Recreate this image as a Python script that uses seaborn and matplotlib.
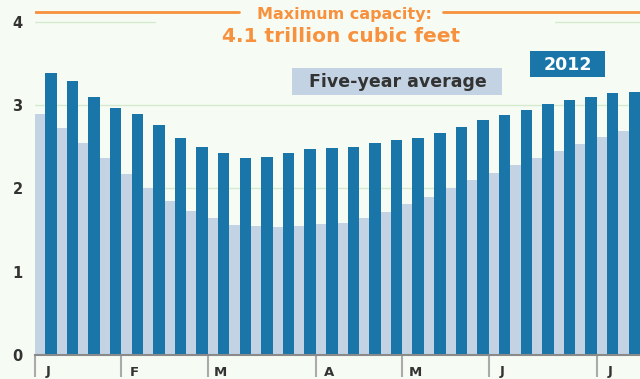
import matplotlib
matplotlib.use("Agg")
import matplotlib.pyplot as plt
from matplotlib.patches import Rectangle
import seaborn as sns
import numpy as np
import pandas as pd

# ---- data ----
weeks = list(range(28))
storage_2012 = [3.38, 3.29, 3.10, 2.97, 2.89, 2.76, 2.60, 2.50, 2.42, 2.37,
                2.38, 2.43, 2.47, 2.48, 2.50, 2.55, 2.58, 2.60, 2.67, 2.74,
                2.82, 2.88, 2.94, 3.01, 3.06, 3.10, 3.14, 3.16]
five_year_avg = [2.89, 2.72, 2.55, 2.37, 2.17, 2.00, 1.85, 1.73, 1.64, 1.56,
                 1.55, 1.54, 1.55, 1.57, 1.59, 1.64, 1.72, 1.81, 1.90, 2.00,
                 2.10, 2.19, 2.28, 2.37, 2.45, 2.53, 2.62, 2.69]
month_labels = ["J", "F", "M", "A", "M", "J", "J"]
month_starts = [0, 4, 8, 13, 17, 21, 26]
y_ticks = [0, 1, 2, 3, 4]
max_capacity = 4.12

BG = "#f6fcf4"
DARK = "#1a76a8"
LIGHT = "#c3d3e3"
ORANGE = "#f7913d"
GRID = "#d6e9cc"
TXT = "#333333"

sns.set_theme(style="white")
plt.rcParams['font.family'] = ['DejaVu Sans']

W, H = 640, 379
fig = plt.figure(figsize=(6.4, 3.79), dpi=100, facecolor=BG)
ax = fig.add_axes([35/W, 24/H, 605/W, 355/H])
ax.set_facecolor(BG)

lw, dw = 0.47, 0.53
df_l = pd.DataFrame({"x": [w + lw/2 for w in weeks], "v": five_year_avg})
df_d = pd.DataFrame({"x": [w + lw + dw/2 for w in weeks], "v": storage_2012})
sns.barplot(data=df_l, x="x", y="v", native_scale=True, width=lw, color=LIGHT,
            saturation=1, linewidth=0, ax=ax, zorder=2)
sns.barplot(data=df_d, x="x", y="v", native_scale=True, width=dw, color=DARK,
            saturation=1, linewidth=0, ax=ax, zorder=3)

ax.set_xlim(0, 28)
ax.set_ylim(0, 355/83.3)

yt = ax.get_yaxis_transform()
for g in [1, 2, 3]:
    ax.plot([0, 1], [g, g], transform=yt, color=GRID, lw=1, zorder=1)
ax.plot([0, 0.198], [4, 4], transform=yt, color=GRID, lw=1, zorder=1)
ax.plot([0.86, 1], [4, 4], transform=yt, color=GRID, lw=1, zorder=1)
ax.plot([0, 0.337], [max_capacity]*2, transform=yt, color=ORANGE, lw=2, zorder=4)
ax.plot([0.674, 1], [max_capacity]*2, transform=yt, color=ORANGE, lw=2, zorder=4)

fig.text(344/W, 1 - 15/H, "Maximum capacity:", ha="center", va="center",
         color=ORANGE, fontsize=11.5, fontweight="bold")
fig.text(341/W, 1 - 37/H, "4.1 trillion cubic feet", ha="center", va="center",
         color=ORANGE, fontsize=14.5, fontweight="bold")

# legend boxes (pixel boxes from the reference)
def box(x0, y0, x1, y1, fc):
    fig.patches.append(Rectangle((x0/W, 1 - y1/H), (x1-x0)/W, (y1-y0)/H,
                                 transform=fig.transFigure, fc=fc, ec="none", zorder=6))
box(530, 51, 605, 77, DARK)
box(292, 68, 502, 95, LIGHT)
fig.text(567.5/W, 1 - 64.5/H, "2012", ha="center", va="center", color="white",
         fontsize=12.5, fontweight="bold", zorder=7)
fig.text(398/W, 1 - 82/H, "Five-year average", ha="center", va="center",
         color=TXT, fontsize=12.5, fontweight="bold", zorder=7)

for s in ["top", "right", "left"]:
    ax.spines[s].set_visible(False)
ax.spines["bottom"].set_color("#8a8a8a")
ax.spines["bottom"].set_linewidth(1.5)
ax.spines["bottom"].set_zorder(5)

ax.set_yticks(y_ticks)
ax.set_yticklabels([str(t) for t in y_ticks], fontsize=10.5, fontweight="bold", color=TXT)
ax.tick_params(axis="y", length=0, pad=9)

ax.set_xticks(month_starts)
ax.set_xticklabels([""] * len(month_starts))
ax.tick_params(axis="x", length=16, width=1.5, color="#aaaaaa", direction="out", bottom=True)
xt = ax.get_xaxis_transform()
for m, lab in zip(month_starts, month_labels):
    ax.text(m + 0.6, -23.5/355, lab, transform=xt, ha="center", va="bottom",
            fontsize=9.5, fontweight="bold", color=TXT, clip_on=False)

ax.set_xlabel("")
ax.set_ylabel("")
fig.savefig("out.png", dpi=100, facecolor=BG)
